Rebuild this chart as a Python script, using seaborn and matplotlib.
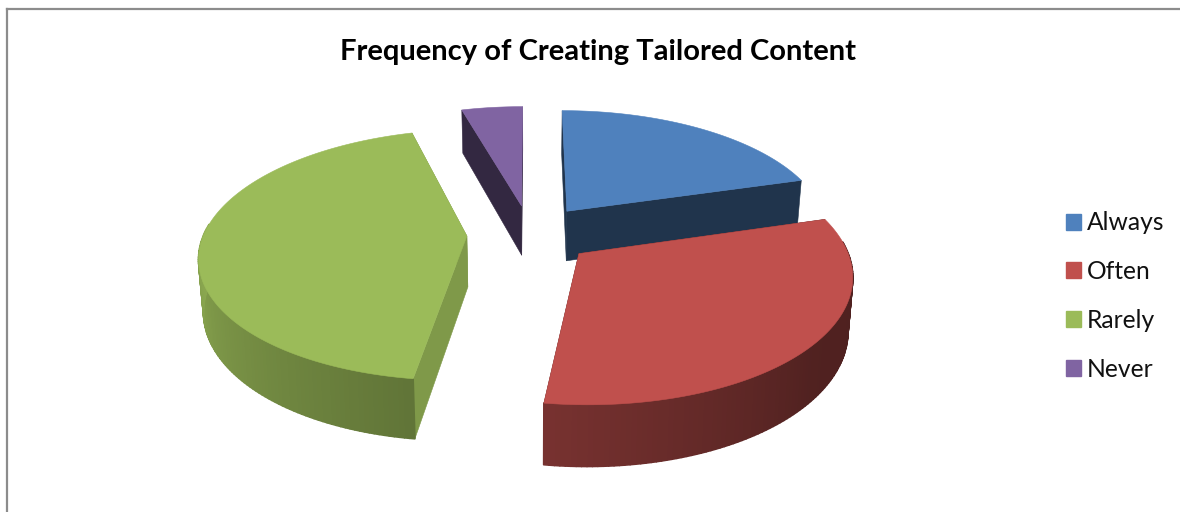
import numpy as np
import matplotlib
matplotlib.use("Agg")
import matplotlib.pyplot as plt
from matplotlib.patches import Patch, Polygon
import seaborn as sns

title = "Frequency of Creating Tailored Content"
categories = ["Always", "Often", "Rarely", "Never"]
shares = [20.5, 31.7, 43.4, 4.4]
colors = ["#4f81bd", "#c0504d", "#9bbb59", "#8064a2"]

sns.set_theme(style="white")
plt.rcParams["font.family"] = ["Lato", "DejaVu Sans"]
palette = sns.color_palette(colors)

# Projection of the tilted disc onto the canvas
CX, CY = 530.0, 234.0
RX, RY = 263.0, 122.0
THICK = 51.0
PERSPECTIVE = 0.15
EXPLODE = 0.24

# Side shading of the rim, by angle clockwise from twelve o'clock
RIM_ANGLE = [0, 68, 130, 187, 270, 360]
RIM_SHADE = [0.40, 0.40, 0.42, 0.62, 0.90, 0.90]
CUT_SHADE = [0.40, 0.40, 0.82, 0.40]


def project(x, y, z=0.0):
    w = 1 + PERSPECTIVE * y
    sx = CX + RX * x / w * (1 - 0.015 * z)
    sy = CY - RY * y / w + THICK * z / w
    return sx, sy


def scaled(color, factor):
    return tuple(c * factor for c in color)


fig = plt.figure(figsize=(11.8, 5.12), dpi=100, facecolor="white")
ax = fig.add_axes([7 / 1180, 0, 1 - 7 / 1180, 1 - 9 / 512])
ax.set_xlim(7, 1180)
ax.set_ylim(512, 9)
ax.set_xticks([])
ax.set_yticks([])
for side in ("right", "bottom"):
    ax.spines[side].set_visible(False)
for side in ("left", "top"):
    ax.spines[side].set_color("#8c8c8c")
    ax.spines[side].set_linewidth(1.6)

fractions = np.array(shares, dtype=float) / sum(shares)
ends = np.cumsum(fractions) * 360
starts = ends - fractions * 360


def draw_slice(idx):
    color = palette[idx]
    a0, a1 = starts[idx], ends[idx]
    mid = np.radians((a0 + a1) / 2)
    ox, oy = EXPLODE * np.sin(mid), EXPLODE * np.cos(mid)
    theta = np.linspace(a0, a1, int(a1 - a0) + 2)
    rad = np.radians(theta)
    px, py = ox + np.sin(rad), oy + np.cos(rad)

    # The two radial cut faces sit beneath the rim and the top
    cut = scaled(color, CUT_SHADE[idx])
    for k in (0, -1):
        corners = [project(ox, oy, 0), project(px[k], py[k], 0),
                   project(px[k], py[k], 1), project(ox, oy, 1)]
        ax.add_patch(Polygon(corners, closed=True, fc=cut, ec=cut, lw=0.4,
                             zorder=idx_z[idx]))

    # Outer rim as narrow shaded strips, front-facing part only
    for i in range(len(theta) - 1):
        mid_theta = (theta[i] + theta[i + 1]) / 2
        if np.cos(np.radians(mid_theta)) > 0.1:
            continue
        tx0, ty0 = project(px[i], py[i], 0)
        tx1, ty1 = project(px[i + 1], py[i + 1], 0)
        bx0, by0 = project(px[i], py[i], 1)
        bx1, by1 = project(px[i + 1], py[i + 1], 1)
        shade = np.interp(mid_theta, RIM_ANGLE, RIM_SHADE)
        face = scaled(color, shade)
        ax.add_patch(Polygon([(tx0, ty0), (tx1, ty1), (bx1, by1), (bx0, by0)],
                             closed=True, fc=face, ec=face, lw=1.2,
                             joinstyle="round", zorder=idx_z[idx] + 0.1))

    # Top face
    top = [project(ox, oy, 0)] + [project(x, y, 0) for x, y in zip(px, py)]
    ax.add_patch(Polygon(top, closed=True, fc=color, ec=color, lw=0.4,
                         zorder=idx_z[idx] + 0.2))


# Painter's order: back slices first
draw_order = [3, 0, 2, 1]
idx_z = {idx: 2 + n for n, idx in enumerate(draw_order)}
for idx in draw_order:
    draw_slice(idx)

ax.text(598, 52, title, ha="center", va="center", fontsize=21,
        fontweight="bold", color="black")

handles = [Patch(facecolor=c, edgecolor=c, label=n) for c, n in zip(palette, categories)]
legend = ax.legend(handles=handles, loc="center left", bbox_to_anchor=(1066, 296),
                   bbox_transform=ax.transData, frameon=False, fontsize=17.7,
                   handlelength=0.62, handleheight=0.62, handletextpad=0.22,
                   labelspacing=1.05, borderpad=0, borderaxespad=0)
for text in legend.get_texts():
    text.set_color("#111111")

fig.savefig("out.png", dpi=100, facecolor="white")
